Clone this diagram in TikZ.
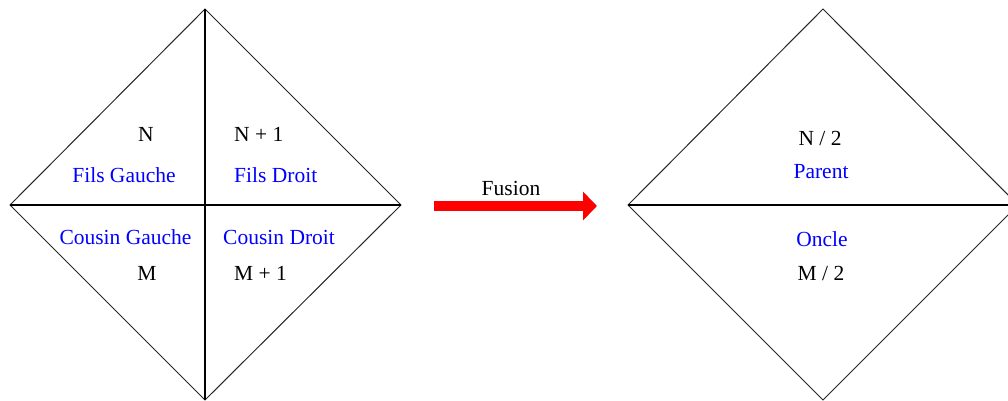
\documentclass[tikz,border=0pt]{standalone}
\usepackage{fontspec}
\setmainfont{Liberation Serif}
\usetikzlibrary{arrows.meta}
\begin{document}
\begin{tikzpicture}[x=1pt,y=-1pt,
  edge/.style={draw=black!85, line width=1pt},
  cross/.style={draw=black, line width=1.5pt},
  lbl/.style={inner sep=0pt, font=\fontsize{21.5}{24}\selectfont, text=black},
  blbl/.style={lbl, text=blue},
  fusionarrow/.style={draw=red, line width=10pt, -{Triangle[length=14pt,width=28pt]}}]
\useasboundingbox (0,0) rectangle (1008,401);
\clip (0,0) rectangle (1008,401);
% left diamond
\coordinate (LT) at (205,9);
\coordinate (LL) at (10,205);
\coordinate (LR) at (401,205);
\coordinate (LB) at (205,400);
\draw[edge] (LT) -- (LR) -- (LB) -- (LL) -- cycle;
\draw[cross] (LT) -- (LB);
\draw[cross] (LL) -- (LR);
% right diamond
\coordinate (RT) at (823,9);
\coordinate (RL) at (628,205);
\coordinate (RR) at (1018,205);
\coordinate (RB) at (823,400);
\draw[edge] (RT) -- (RR) -- (RB) -- (RL) -- cycle;
\draw[cross] (RL) -- (RR);
% left labels
\node[lbl] (n) at (146,134) {N};
\node[blbl] (fg) at (124,175) {Fils Gauche};
\node[lbl, anchor=west] (n1) at (234,134) {N + 1};
\node[blbl, anchor=west] (fd) at (234,175) {Fils Droit};
\node[blbl] (cg) at (125.5,237) {Cousin Gauche};
\node[lbl] (m) at (147,273) {M};
\node[blbl, anchor=west] (cd) at (223,237) {Cousin Droit};
\node[lbl, anchor=west] (m1) at (234,273) {M + 1};
% right labels
\node[lbl] (n2) at (820,138) {N / 2};
\node[blbl] (par) at (821,172) {Parent};
\node[blbl] (onc) at (822,239) {Oncle};
\node[lbl] (m2) at (821,273) {M / 2};
% arrow
\coordinate (A1) at (434,206);
\coordinate (A2) at (597,206);
\draw[fusionarrow] (A1) -- (A2);
\node[lbl] (fus) at (511,188) {Fusion};
\end{tikzpicture}
\end{document}
